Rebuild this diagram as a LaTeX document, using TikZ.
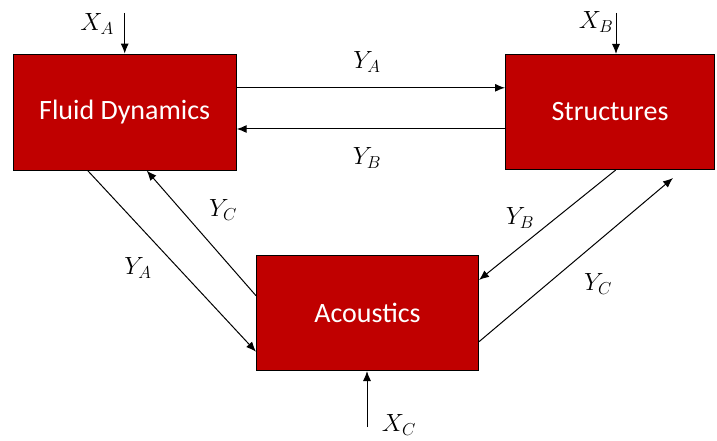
\documentclass[tikz,border=0pt]{standalone}
\usepackage{fontspec}
\setmainfont{Carlito}
\usetikzlibrary{arrows.meta}
\definecolor{boxred}{HTML}{C00000}
\begin{document}
\begin{tikzpicture}[x=1pt,y=-1pt,
  blockbox/.style={draw=black, line width=1pt, fill=boxred, text=white, inner sep=0pt,
    font=\fontsize{28}{28}\selectfont},
  arr/.style={line width=1pt, -{Latex[length=10pt,width=8pt]}},
  lbl/.style={inner sep=0pt, font=\fontsize{23}{23}\selectfont}]
\useasboundingbox (0,0) rectangle (717,441);

\node[blockbox, minimum width=223pt, minimum height=116pt] (fd) at (124.7,112.1) {\raisebox{-2pt}{Fluid Dynamics}};
\node[blockbox, minimum width=209pt, minimum height=115pt] (st) at (610,112) {\raisebox{-2pt}{Structures}};
\node[blockbox, minimum width=222pt, minimum height=115pt] (ac) at (367.5,313) {\raisebox{-2pt}{Acoustics}};

% external inputs
\coordinate (xa) at (124.7,13);
\coordinate (xb) at (616,13);
\coordinate (xc) at (367,427);
\draw[arr] (xa) -- (xa |- fd.north);
\draw[arr] (xb) -- (xb |- st.north);
\draw[arr] (xc) -- (xc |- ac.south);

% horizontal
\draw[arr] ([yshift=24.3pt]fd.east) -- ([yshift=24.3pt]fd.east -| st.west);
\draw[arr] ([yshift=-17pt]st.west) -- ([yshift=-17pt]st.west -| fd.east);

% left diagonals
\draw[arr] ([xshift=75pt]fd.south west) -- ([yshift=-38.7pt]ac.west);
\draw[arr] ([yshift=17.3pt]ac.west) -- ([xshift=134pt]fd.south west);

% right diagonals
\draw[arr] ([xshift=110.7pt]st.south west) -- ([yshift=33pt]ac.east);
\coordinate (ycend) at ([xshift=168pt,yshift=-8pt]st.south west);
\draw[arr] ([yshift=-28.7pt]ac.east) -- (ycend);

% labels
\node[lbl] (lxa) at (97,24) {$X_A$};
\node[lbl] (lxb) at (596,22) {$X_B$};
\node[lbl] (lxc) at (399,425) {$X_C$};
\node[lbl] (lya1) at (367,62) {$Y_A$};
\node[lbl] (lyb1) at (367,158) {$Y_B$};
\node[lbl] (lyc1) at (223,210) {$Y_C$};
\node[lbl] (lya2) at (138,268) {$Y_A$};
\node[lbl] (lyb2) at (520,218) {$Y_B$};
\node[lbl] (lyc2) at (598,284) {$Y_C$};
\end{tikzpicture}
\end{document}
